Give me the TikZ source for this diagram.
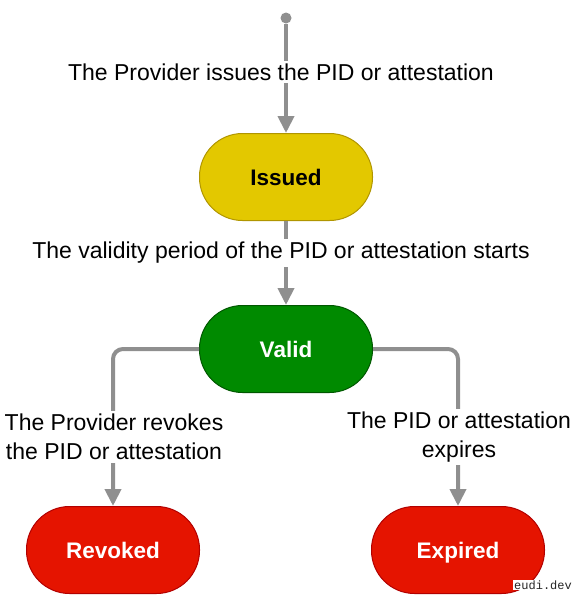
\documentclass[tikz,border=0pt]{standalone}
\usepackage{fontspec}
\setmainfont{Liberation Sans}
\newfontfamily\markfont{Liberation Mono}
\usetikzlibrary{arrows.meta}

\definecolor{flowgray}{HTML}{8F8F8F}
\definecolor{issuedfill}{HTML}{E3C800}
\definecolor{issuedline}{HTML}{B09500}
\definecolor{validfill}{HTML}{008A00}
\definecolor{validline}{HTML}{005700}
\definecolor{endfill}{HTML}{E51400}
\definecolor{endline}{HTML}{B20000}

\tikzset{
  state/.style={draw, line width=1pt, rounded corners=43pt, minimum width=173pt,
    minimum height=87pt, text height=16pt, text depth=0pt,
    font=\bfseries\fontsize{22.5}{26}\selectfont},
  flow/.style={draw=flowgray, line width=4pt, rounded corners=10pt,
    -{Triangle[length=17pt,width=16pt]}},
  note/.style={fill=white, align=center, inner sep=3pt,
    font=\fontsize{23}{29}\selectfont}
}

\begin{document}
\begin{tikzpicture}[x=1pt,y=-1pt]
\useasboundingbox (0,0) rectangle (577,600);

% states
\node[circle, fill=flowgray, minimum size=11pt, inner sep=0pt] (start) at (286,18) {};
\node[state, fill=issuedfill, draw=issuedline] (issued) at (286,177) {Issued};
\node[state, fill=validfill, draw=validline, text=white] (valid) at (286,349) {Valid};
\node[state, fill=endfill, draw=endline, text=white] (revoked) at (113,550) {Revoked};
\node[state, fill=endfill, draw=endline, text=white] (expired) at (458,550) {Expired};

% transitions
\draw[flow] (start) -- (issued);
\draw[flow] (issued) -- (valid);
\draw[flow] (valid.west) -| (revoked.north);
\draw[flow] (valid.east) -| (expired.north);

% labels
\node[note] (issuelbl) at (281,72) {The Provider issues the PID or attestation};
\node[note] (startlbl) at (281,253) {The validity period of the PID or attestation starts};
\node[note] (revokelbl) at (114,437) {The Provider revokes\\the PID or attestation};
\node[note] (expirelbl) at (459,437) {The PID or attestation\\expires};

\node[fill=white, inner sep=1pt, text=black!85,
  font=\markfont\fontsize{12}{13}\selectfont] (mark) at (543,585) {eudi.dev};
\end{tikzpicture}
\end{document}
